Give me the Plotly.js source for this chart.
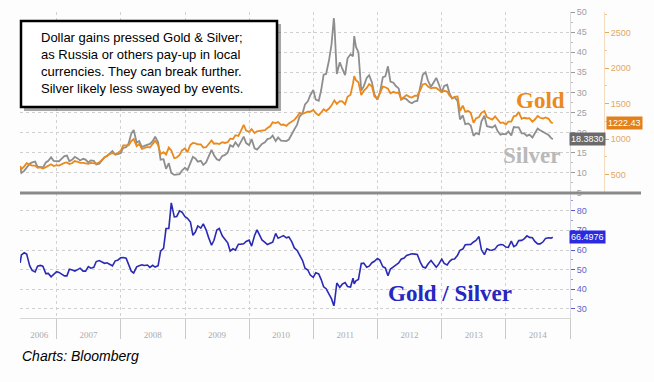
<!DOCTYPE html>
<html>
<head>
<meta charset="utf-8">
<script src="https://cdn.plot.ly/plotly-3.0.1.min.js"></script>
<style>
html,body{margin:0;padding:0;background:#fdfdfd;}
#chart{width:654px;height:382px;}
</style>
</head>
<body>
<div id="chart"></div>
<script>
// ---- data (semi-monthly readings, Jun 2006 - Sep 2014) ----
const dates = [
 '2006-06-08','2006-06-15','2006-07-01','2006-07-15','2006-08-01','2006-08-15','2006-09-01','2006-09-15','2006-10-01','2006-10-15','2006-11-01','2006-11-15','2006-12-01','2006-12-15',
 '2007-01-01','2007-01-15','2007-02-01','2007-02-15','2007-03-01','2007-03-15','2007-04-01','2007-04-15','2007-05-01','2007-05-15','2007-06-01','2007-06-15','2007-07-01','2007-07-15','2007-08-01','2007-08-15','2007-09-01','2007-09-15','2007-10-01','2007-10-15','2007-11-01','2007-11-15','2007-12-01','2007-12-15',
 '2008-01-01','2008-01-15','2008-02-01','2008-02-15','2008-03-01','2008-03-15','2008-04-01','2008-04-15','2008-05-01','2008-05-15','2008-06-01','2008-06-15','2008-07-01','2008-07-15','2008-08-01','2008-08-15','2008-09-01','2008-09-15','2008-10-01','2008-10-15','2008-11-01','2008-11-15','2008-12-01','2008-12-15',
 '2009-01-01','2009-01-15','2009-02-01','2009-02-15','2009-03-01','2009-03-15','2009-04-01','2009-04-15','2009-05-01','2009-05-15','2009-06-01','2009-06-15','2009-07-01','2009-07-15','2009-08-01','2009-08-15','2009-09-01','2009-09-15','2009-10-01','2009-10-15','2009-11-01','2009-11-15','2009-12-01','2009-12-15',
 '2010-01-01','2010-01-15','2010-02-01','2010-02-15','2010-03-01','2010-03-15','2010-04-01','2010-04-15','2010-05-01','2010-05-15','2010-06-01','2010-06-15','2010-07-01','2010-07-15','2010-08-01','2010-08-15','2010-09-01','2010-09-15','2010-10-01','2010-10-15','2010-11-01','2010-11-15','2010-12-01','2010-12-15',
 '2011-01-01','2011-01-15','2011-02-01','2011-02-15','2011-03-01','2011-03-15','2011-04-01','2011-04-15','2011-04-28','2011-05-01','2011-05-15','2011-06-01','2011-06-15','2011-07-01','2011-07-15','2011-08-01','2011-08-15','2011-08-22','2011-09-01','2011-09-15','2011-10-01','2011-10-15','2011-11-01','2011-11-15','2011-12-01','2011-12-15',
 '2012-01-01','2012-01-15','2012-02-01','2012-02-15','2012-03-01','2012-03-15','2012-04-01','2012-04-15','2012-05-01','2012-05-15','2012-06-01','2012-06-15','2012-07-01','2012-07-15','2012-08-01','2012-08-15','2012-09-01','2012-09-15','2012-10-01','2012-10-15','2012-11-01','2012-11-15','2012-12-01','2012-12-15',
 '2013-01-01','2013-01-15','2013-02-01','2013-02-15','2013-03-01','2013-03-15','2013-04-01','2013-04-15','2013-05-01','2013-05-15','2013-06-01','2013-06-15','2013-07-01','2013-07-15','2013-08-01','2013-08-15','2013-09-01','2013-09-15','2013-10-01','2013-10-15','2013-11-01','2013-11-15','2013-12-01','2013-12-15',
 '2014-01-01','2014-01-15','2014-02-01','2014-02-15','2014-03-01','2014-03-15','2014-04-01','2014-04-15','2014-05-01','2014-05-15','2014-06-01','2014-06-15','2014-07-01','2014-07-15','2014-08-01','2014-08-15','2014-09-01','2014-09-15','2014-09-25'
];
const gold = [
 620,575,615,660,640,625,625,595,600,585,605,625,645,620,
 632,627,650,665,670,648,662,690,680,665,665,655,650,665,665,655,672,710,740,760,790,800,790,800,
 835,910,915,910,970,1000,900,930,860,870,890,880,935,975,915,790,815,780,880,840,730,740,775,840,
 870,815,920,945,940,925,925,880,885,930,980,935,940,930,955,945,955,1005,1000,1055,1045,1115,1200,1120,
 1100,1140,1085,1110,1115,1120,1125,1155,1180,1235,1225,1240,1200,1205,1185,1220,1250,1270,1315,1370,1355,1370,1385,1385,
 1410,1365,1335,1375,1420,1395,1430,1475,1535,1545,1495,1535,1530,1490,1595,1625,1780,1885,1830,1800,1620,1680,1720,1775,1740,1600,
 1570,1640,1740,1730,1710,1645,1665,1650,1655,1560,1600,1620,1595,1585,1610,1610,1690,1770,1780,1740,1715,1725,1720,1695,
 1660,1680,1670,1610,1575,1595,1600,1395,1470,1385,1395,1370,1230,1290,1310,1370,1395,1310,1290,1275,1320,1270,1225,1235,
 1205,1245,1245,1320,1330,1380,1285,1300,1290,1295,1245,1275,1325,1300,1290,1305,1285,1235,1222.43
];
const silver = [
 11.6,10.0,10.5,11.4,12.3,12.6,12.8,11.5,11.5,11.3,12.6,13.0,13.9,13.0,
 12.9,12.9,13.6,14.2,14.3,12.9,13.3,14.0,13.6,13.1,13.5,13.3,12.6,13.1,13.0,12.1,12.3,13.2,13.9,14.2,15.0,15.4,14.5,14.6,
 14.9,16.2,16.4,17.3,19.7,20.7,17.5,17.9,16.4,16.7,17.0,17.2,17.9,19.0,17.6,13.3,13.4,11.0,12.4,10.0,9.5,9.6,9.7,10.6,
 11.3,10.7,12.4,14.0,13.6,12.8,13.0,12.0,12.6,14.0,15.7,14.4,13.4,13.1,14.2,14.4,15.0,16.9,16.5,17.6,16.6,17.7,19.0,17.4,
 16.9,18.4,16.1,15.8,16.5,17.2,17.6,18.4,18.6,19.3,17.9,18.8,18.0,17.9,17.9,18.3,19.5,20.8,22.0,24.0,24.8,27.0,27.8,29.3,
 30.6,28.2,27.9,30.6,34.4,34.6,38.1,42.0,48.5,47.0,34.6,37.5,35.9,34.3,38.5,39.5,39.0,44.0,41.3,40.0,30.5,31.5,33.6,34.3,32.5,29.5,
 28.2,29.9,33.8,34.0,36.5,32.7,32.4,31.6,31.0,28.2,28.6,28.3,27.6,27.3,27.8,27.9,31.4,34.4,35.0,32.9,31.4,32.4,33.6,32.1,
 30.0,31.6,31.9,29.7,28.5,28.8,27.9,23.3,24.3,22.1,22.3,21.8,19.2,19.9,19.6,22.8,24.2,21.6,21.5,21.3,21.8,20.4,19.5,19.7,
 19.6,20.3,19.3,21.4,21.3,21.3,19.8,19.8,19.2,19.5,18.8,19.8,21.0,20.6,20.1,19.8,19.4,18.7,18.383
];
// gold / silver ratio, as defined by the chart
const ratio = gold.map((g, i) => g / silver[i]);

const yearLabels = ['2006','2007','2008','2009','2010','2011','2012','2013','2014'];
const yearLabelPos = ['2006-09-25','2007-07-02','2008-07-02','2009-07-02','2010-07-02','2011-07-02','2012-07-02','2013-07-02','2014-07-02'];
const yearStarts = ['2007-01-01','2008-01-01','2009-01-01','2010-01-01','2011-01-01','2012-01-01','2013-01-01','2014-01-01','2015-01-01'];
const lastLabels = {gold:'1222.43', silver:'18.3830', ratio:'66.4976'};
const noteLines = ['Dollar gains pressed Gold &amp; Silver;','as Russia or others pay-up in local','currencies. They can break further.','Silver likely less swayed by events.'];

// ---- layout helpers (pixel -> paper) ----
const L = 20, T = 12, W = 600, H = 306;
const px = x => (x - L) / W;
const py = y => (T + H - y) / H;
const split = py(193);

const traces = [
  {x: dates, y: silver, xaxis:'x', yaxis:'y', mode:'lines', line:{color:'#8e8e8e', width:1.8}, name:'Silver'},
  {x: dates, y: gold, xaxis:'x', yaxis:'y2', mode:'lines', line:{color:'#ea8a1c', width:1.8}, name:'Gold'},
  {x: dates, y: ratio, xaxis:'x', yaxis:'y3', mode:'lines', line:{color:'#2a2ab4', width:1.6}, name:'Gold / Silver'}
];

const grid = {showgrid:true, gridcolor:'#cfcfcf', griddash:'dot', gridwidth:1};
const serif = 'Liberation Serif, Times New Roman, serif';
const layout = {
  width:654, height:382,
  margin:{l:L, r:654-L-W, t:T, b:382-T-H},
  paper_bgcolor:'#fdfdfd', plot_bgcolor:'#fdfdfd',
  showlegend:false,
  font:{family:'Liberation Sans, Arial, sans-serif'},
  xaxis:{
    domain:[0, 550/W], type:'date', anchor:'y3',
    range:['2006-06-07','2015-01-01'],
    tickmode:'array', tickvals:yearLabelPos, ticktext:yearLabels,
    ticks:'outside', ticklen:8, tickcolor:'rgba(0,0,0,0)',
    tickfont:{family:serif, size:9, color:'#ababab'},
    showgrid:false, zeroline:false,
    showline:true, linecolor:'#d6d6d6', linewidth:1,
    minor:{tickmode:'array', tickvals:yearStarts, ticks:'outside', ticklen:20, tickcolor:'#c9c9c9', tickwidth:1,
           showgrid:true, gridcolor:'#d2d2d2', griddash:'dot', gridwidth:1}
  },
  yaxis:Object.assign({
    domain:[split, 1], anchor:'x', side:'right',
    range:[5, 50], tick0:0, dtick:5,
    ticks:'outside', ticklen:4, tickcolor:'#9a9a9a',
    tickfont:{size:9, color:'#a0a0a0'},
    showline:true, linecolor:'#d9d9d9', zeroline:false,
    minor:{dtick:2.5, ticks:'outside', ticklen:2, tickcolor:'#bbbbbb', showgrid:false}
  }, grid),
  yaxis2:{
    overlaying:'y', side:'right', anchor:'free', position:px(604),
    range:[240, 2790], tick0:0, dtick:500,
    ticks:'outside', ticklen:4, tickcolor:'#eaa55a',
    tickfont:{size:9, color:'#e3a865'},
    showgrid:false, zeroline:false,
    showline:true, linecolor:'#f3dcc0',
    minor:{dtick:250, ticks:'outside', ticklen:2, tickcolor:'#f0c898', showgrid:false}
  },
  yaxis3:Object.assign({
    domain:[0, split], anchor:'x', side:'right',
    range:[25.4, 89], tick0:0, dtick:10,
    ticks:'outside', ticklen:4, tickcolor:'#5a5ad0',
    tickfont:{size:9, color:'#6262c8'},
    showline:true, linecolor:'#d6d6e6', zeroline:false,
    minor:{dtick:5, ticks:'outside', ticklen:2, tickcolor:'#9a9ae0', showgrid:false}
  }, grid),
  shapes:[
    {type:'line', xref:'paper', yref:'paper', x0:0, x1:px(641), y0:split, y1:split, line:{color:'#8a8a8a', width:3}},
    {type:'rect', xref:'paper', yref:'paper', x0:px(24), x1:px(281), y0:py(111), y1:py(24), fillcolor:'rgba(60,60,60,0.45)', line:{width:0}},
    {type:'rect', xref:'paper', yref:'paper', x0:px(21), x1:px(277), y0:py(107), y1:py(21), fillcolor:'#ffffff', line:{color:'#000000', width:2.5}}
  ],
  annotations:[
    {xref:'paper', yref:'paper', x:px(39), y:py(28), xanchor:'left', yanchor:'top', align:'left', showarrow:false,
     text:noteLines.join('<br>'), font:{family:'Liberation Sans, Arial, sans-serif', size:13, color:'#000000'}},
    {xref:'paper', yref:'paper', x:px(540), y:py(100), xanchor:'center', yanchor:'middle', showarrow:false, text:'<b>Gold</b>',
     font:{family:serif, size:23, color:'#ea8a1c'}},
    {xref:'paper', yref:'paper', x:px(532), y:py(155), xanchor:'center', yanchor:'middle', showarrow:false, text:'<b>Silver</b>',
     font:{family:serif, size:23, color:'#b9b9b9'}},
    {xref:'paper', yref:'paper', x:px(450), y:py(293), xanchor:'center', yanchor:'middle', showarrow:false, text:'<b>Gold / Silver</b>',
     font:{family:serif, size:23, color:'#2626c0'}},
    {xref:'paper', yref:'paper', x:px(20), y:py(356), xanchor:'left', yanchor:'middle', showarrow:false, text:'Charts: Bloomberg',
     font:{family:'Liberation Sans, Arial, sans-serif', size:14, color:'#000000', style:'italic'}},
    {xref:'paper', yref:'y2', x:px(606), y:gold[gold.length-1], xanchor:'left', yanchor:'middle', showarrow:false, text:lastLabels.gold,
     bgcolor:'#e2801a', borderpad:1, font:{size:9, color:'#ffffff'}},
    {xref:'paper', yref:'y', x:px(569), y:silver[silver.length-1], xanchor:'left', yanchor:'middle', showarrow:false, text:lastLabels.silver,
     bgcolor:'#6a6a6a', borderpad:1, font:{size:9, color:'#ffffff'}},
    {xref:'paper', yref:'y3', x:px(569), y:ratio[ratio.length-1], xanchor:'left', yanchor:'middle', showarrow:false, text:lastLabels.ratio,
     bgcolor:'#2a2ae0', borderpad:1, font:{size:9, color:'#ffffff'}}
  ]
};

Plotly.newPlot('chart', traces, layout, {displayModeBar:false, staticPlot:true});
</script>
</body>
</html>
